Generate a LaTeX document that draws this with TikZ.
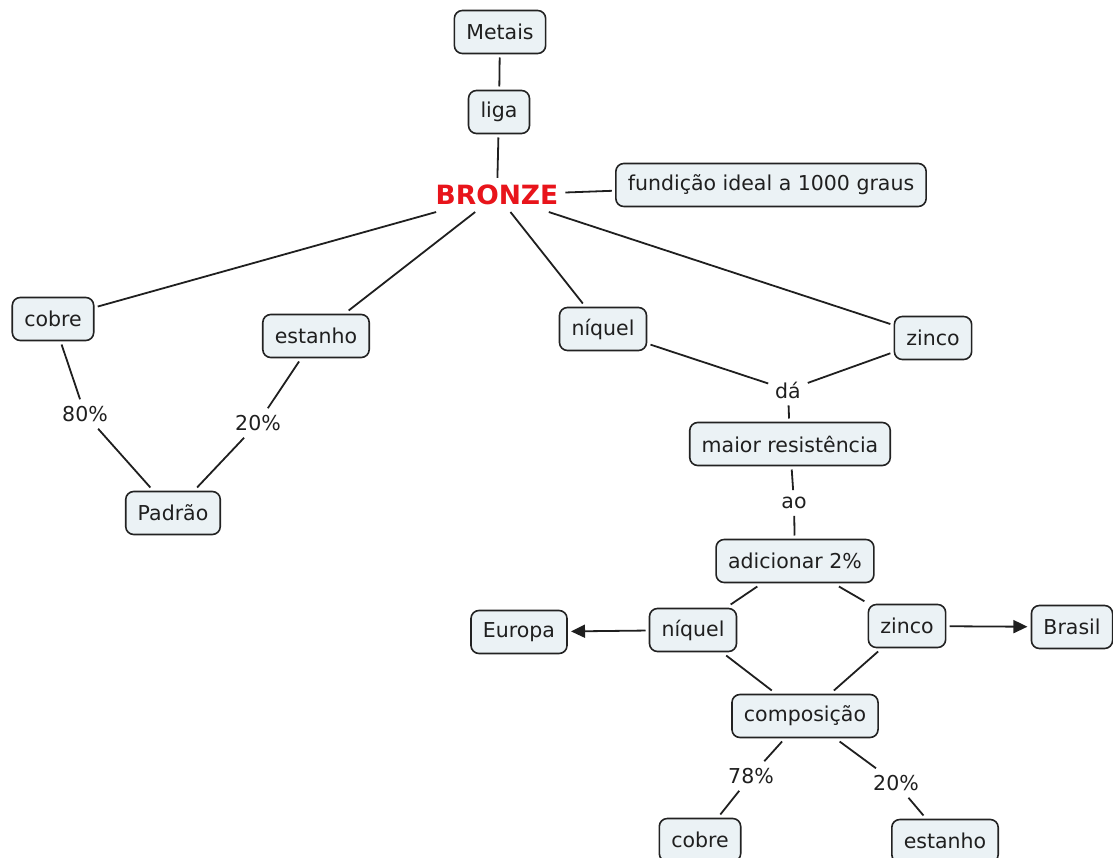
\documentclass[tikz,border=0pt]{standalone}
\usepackage{fontspec}
\setmainfont{DejaVu Sans}
\usetikzlibrary{arrows.meta}
\definecolor{boxfill}{HTML}{EBF2F5}
\definecolor{boxline}{HTML}{222222}
\definecolor{bronzered}{HTML}{E8141B}
\tikzset{
  concept/.style={draw=boxline, line width=1.6pt, fill=boxfill, rounded corners=8pt,
    inner xsep=12pt, inner ysep=0pt, minimum height=43pt, outer sep=4pt,
    font=\fontsize{20.5}{23}\selectfont, text=black!88},
  linkph/.style={inner sep=2pt, outer sep=5pt, font=\fontsize{20.5}{23}\selectfont, text=black!88},
  conn/.style={line width=1.8pt, draw=black!88},
  arr/.style={conn, -{Triangle[length=14pt,width=13pt]}}
}
\begin{document}
\begin{tikzpicture}[x=1pt,y=-1pt]
\useasboundingbox (0,0) rectangle (1113,858);
\node[concept] (metais) at (500,32) {Metais};
\node[concept] (liga) at (499,112) {liga};
\node[inner sep=3pt, outer sep=4pt, font=\fontsize{26.5}{30}\selectfont\bfseries, text=bronzered] (bronze) at (497,195) {BRONZE};
\node[concept] (fundicao) at (771,185) {fundição ideal a 1000 graus};
\node[concept] (cobre1) at (53,319) {cobre};
\node[concept] (estanho1) at (316,336) {estanho};
\node[linkph] (p80) at (85,414) {80\%};
\node[linkph] (p20a) at (258,423) {20\%};
\node[concept] (padrao) at (173,513) {Padrão};
\node[concept] (niquel1) at (603,329) {níquel};
\node[concept] (zinco1) at (933,338) {zinco};
\node[linkph] (da) at (788,390) {dá};
\node[concept] (maior) at (790,444) {maior resistência};
\node[linkph] (ao) at (794,503) {ao};
\node[concept] (adic) at (795,561) {adicionar 2\%};
\node[concept] (niquel2) at (693,630) {níquel};
\node[concept] (zinco2) at (907,626) {zinco};
\node[concept] (europa) at (519,632) {Europa};
\node[concept] (brasil) at (1072,627) {Brasil};
\node[concept] (comp) at (805,716) {composição};
\node[linkph] (p78) at (751,776) {78\%};
\node[linkph] (p20b) at (896,783) {20\%};
\node[concept] (cobre2) at (700,840) {cobre};
\node[concept] (estanho2) at (945,841) {estanho};

\draw[conn] (metais) -- (liga);
\draw[conn] (liga) -- (bronze);
\draw[conn] (bronze) -- (fundicao);
\draw[conn] (bronze) -- (cobre1);
\draw[conn] (bronze) -- (estanho1);
\draw[conn] (bronze) -- (niquel1);
\draw[conn] (bronze) -- (zinco1);
\draw[conn] (cobre1) -- (p80);
\draw[conn] (p80) -- (padrao);
\draw[conn] (estanho1) -- (p20a);
\draw[conn] (p20a) -- (padrao);
\draw[conn] (niquel1) -- (da);
\draw[conn] (zinco1) -- (da);
\draw[conn] (da) -- (maior);
\draw[conn] (maior) -- (ao);
\draw[conn] (ao) -- (adic);
\draw[conn] (adic) -- (niquel2);
\draw[conn] (adic) -- (zinco2);
\draw[conn] (niquel2) -- (comp);
\draw[conn] (zinco2) -- (comp);
\draw[arr] (niquel2) -- (europa);
\draw[arr] (zinco2) -- (brasil);
\draw[conn] (comp) -- (p78);
\draw[conn] (p78) -- (cobre2);
\draw[conn] (comp) -- (p20b);
\draw[conn] (p20b) -- (estanho2);
\end{tikzpicture}
\end{document}
